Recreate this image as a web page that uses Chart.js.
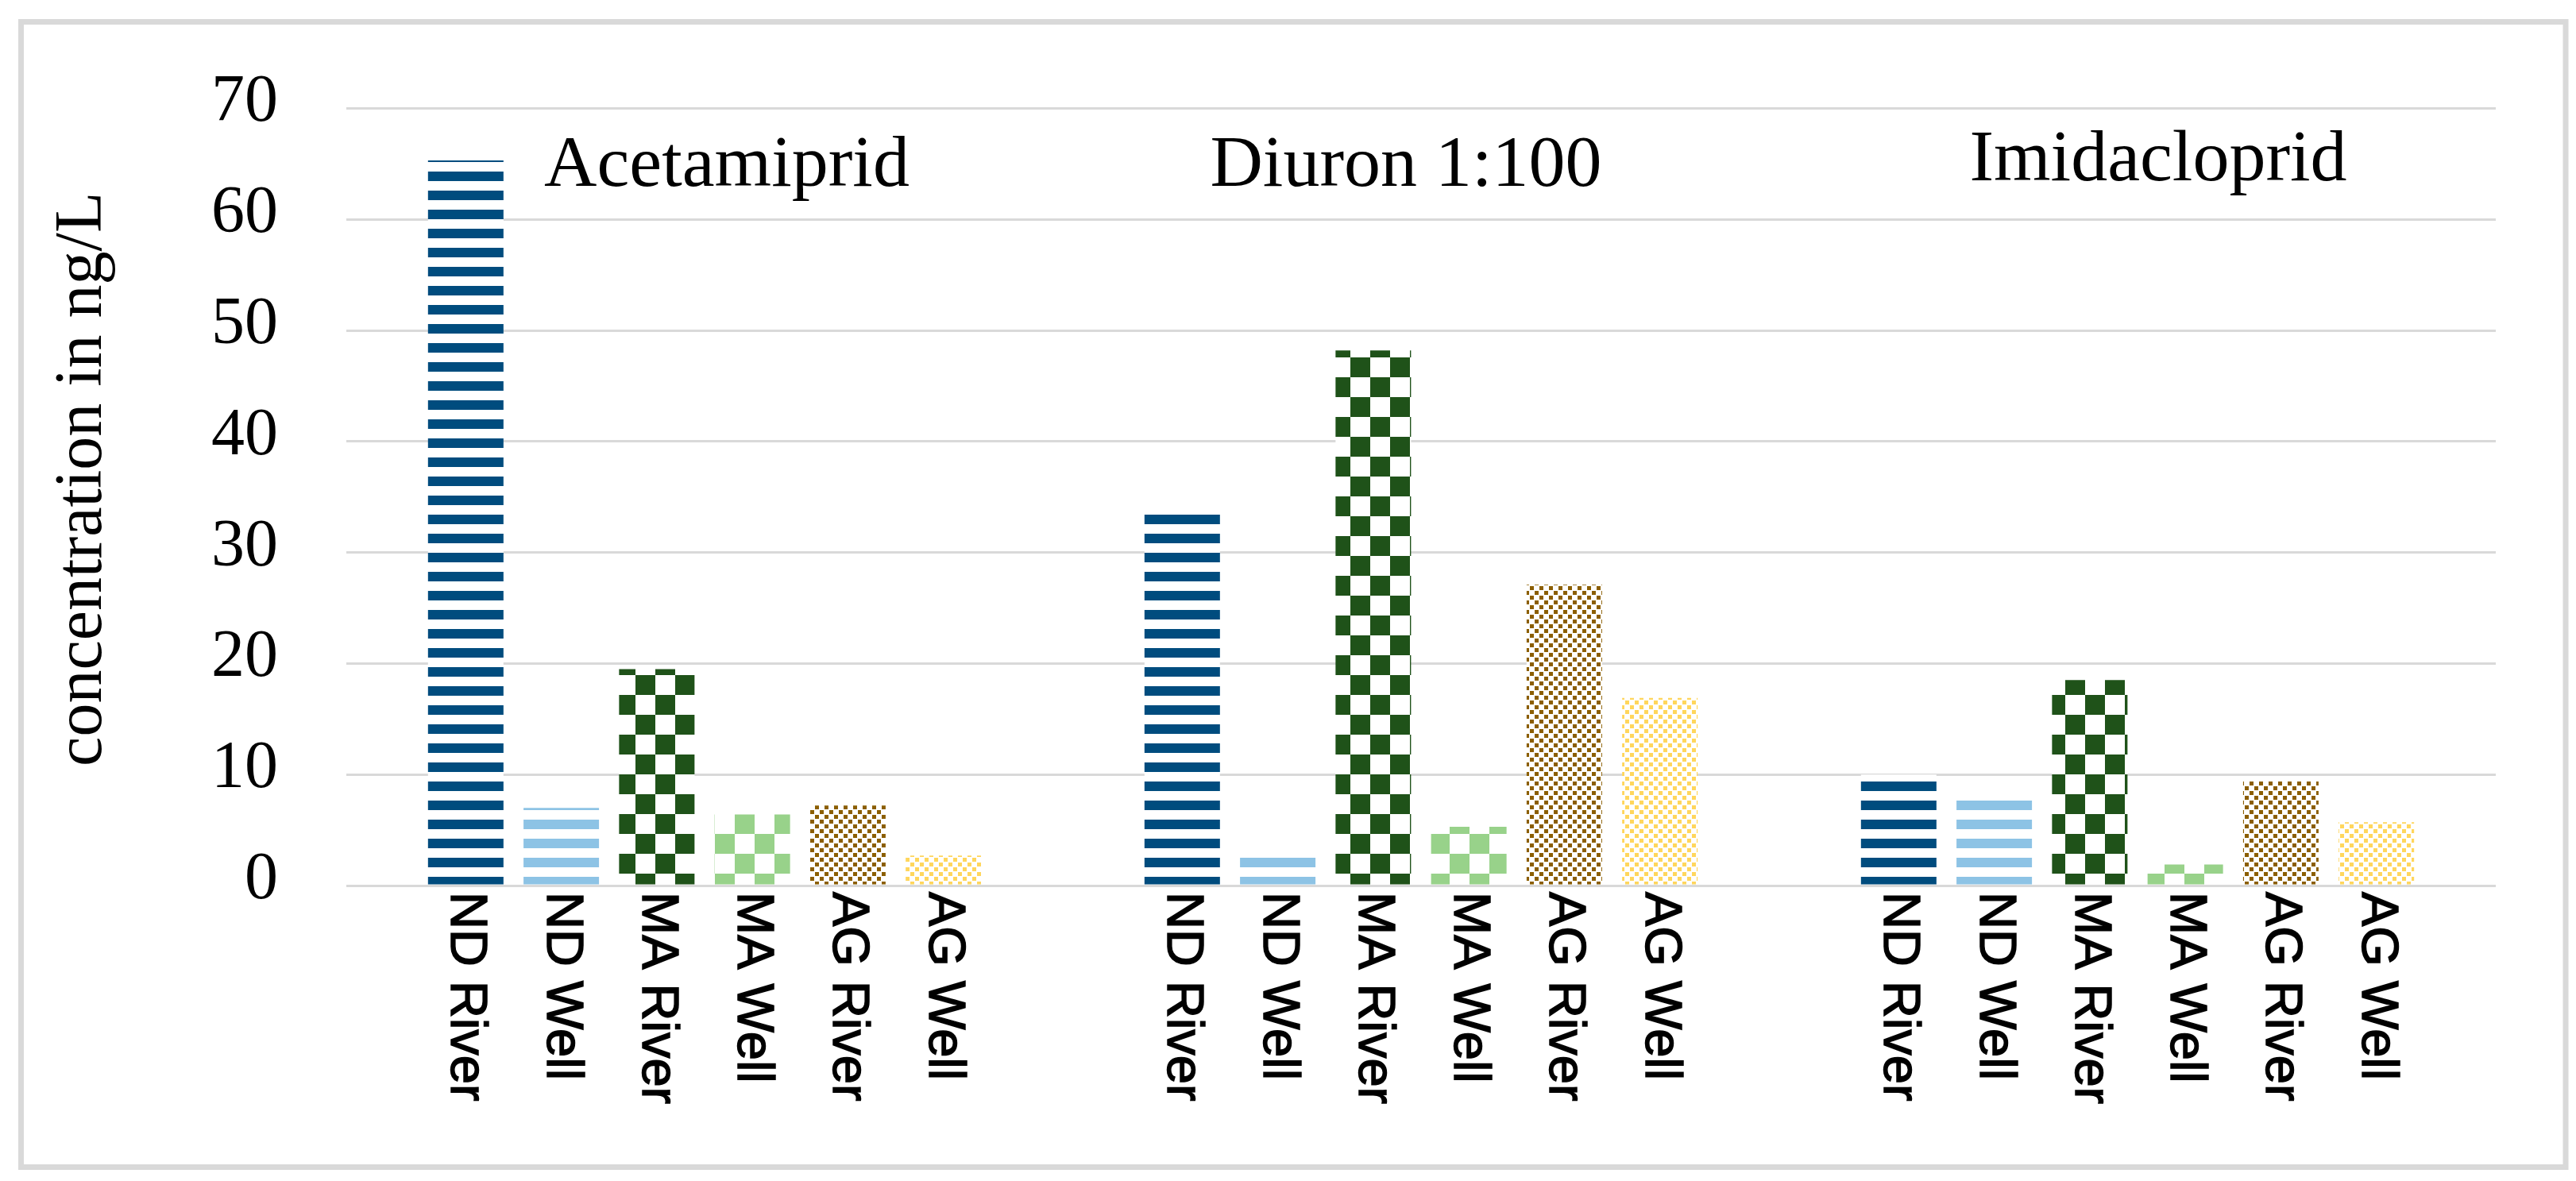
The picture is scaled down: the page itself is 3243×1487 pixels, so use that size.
<!DOCTYPE html>
<html>
<head>
<meta charset="utf-8">
<style>
  html, body { margin: 0; padding: 0; background: #ffffff; }
  canvas { display: block; }
</style>
<script src="https://cdn.jsdelivr.net/npm/chart.js@4.4.1/dist/chart.umd.min.js"></script>
</head>
<body>
<canvas id="chart" width="3243" height="1487"></canvas>
<script>
const groups = ['Acetamiprid', 'Diuron 1:100', 'Imidacloprid'];
const sites = ['ND River', 'ND Well', 'MA River', 'MA Well', 'AG River', 'AG Well'];

// values per site, one per group (Acetamiprid, Diuron 1:100, Imidacloprid)
const ndRiver = [65.3, 33.7, 10.0];
const ndWell = [7.0, 2.9, 7.8];
const maRiver = [19.5, 48.2, 18.5];
const maWell = [6.4, 5.3, 1.9];
const agRiver = [7.2, 27.1, 9.4];
const agWell = [2.7, 16.9, 5.7];

const yTicks = [0, 10, 20, 30, 40, 50, 60, 70];
const yTitle = 'concentration in ng/L';

const serif = '"Liberation Serif", "Times New Roman", serif';
const sans = '"Liberation Sans", Arial, sans-serif';

const makeTile = (size, draw) => {
  const tile = document.createElement('canvas');
  tile.width = size;
  tile.height = size;
  const tctx = tile.getContext('2d');
  tctx.fillStyle = '#ffffff';
  tctx.fillRect(0, 0, size, size);
  draw(tctx);
  return document.getElementById('chart').getContext('2d').createPattern(tile, 'repeat');
};

const stripes = (color) => makeTile(24, (c) => {
  c.fillStyle = color;
  c.fillRect(0, 0, 24, 12);
});

const checker = (color) => makeTile(50, (c) => {
  c.fillStyle = color;
  c.fillRect(0, 0, 25, 25);
  c.fillRect(25, 25, 25, 25);
});

const dots = (color) => makeTile(12, (c) => {
  c.fillStyle = color;
  c.fillRect(0, 0, 5, 5);
  c.fillRect(6, 6, 5, 5);
});

const fills = [
  stripes('#004C7E'),
  stripes('#8DC3E5'),
  checker('#1F5219'),
  checker('#98D28A'),
  dots('#8B5E00'),
  dots('#FFD65C'),
];

const seriesValues = [ndRiver, ndWell, maRiver, maWell, agRiver, agWell];

const frame = {
  id: 'frame',
  beforeDraw(chart) {
    const { ctx } = chart;
    ctx.save();
    ctx.strokeStyle = '#D9D9D9';
    ctx.lineWidth = 7;
    ctx.strokeRect(26.5, 27.5, 3203.5, 1442);
    ctx.restore();
  },
};

const axisTitle = {
  id: 'axisTitle',
  afterDraw(chart, _args, opts) {
    const { ctx, scales } = chart;
    ctx.save();
    ctx.font = `84px ${serif}`;
    ctx.fillStyle = '#000000';
    ctx.textAlign = 'center';
    ctx.textBaseline = 'alphabetic';
    ctx.translate(opts.baselineX, scales.y.getPixelForValue(opts.middle));
    ctx.rotate(-Math.PI / 2);
    ctx.fillText(yTitle, 0, 0);
    ctx.restore();
  },
};

const barLabels = {
  id: 'barLabels',
  afterDraw(chart) {
    const { ctx, chartArea } = chart;
    ctx.save();
    ctx.font = `65px ${sans}`;
    ctx.fillStyle = '#000000';
    ctx.strokeStyle = '#000000';
    ctx.lineWidth = 1.5;
    ctx.textAlign = 'left';
    ctx.textBaseline = 'middle';
    chart.data.datasets.forEach((dataset, i) => {
      chart.getDatasetMeta(i).data.forEach((bar) => {
        ctx.save();
        ctx.translate(bar.x, chartArea.bottom + 8);
        ctx.rotate(Math.PI / 2);
        ctx.fillText(dataset.label, 0, 0);
        ctx.strokeText(dataset.label, 0, 0);
        ctx.restore();
      });
    });
    ctx.restore();
  },
};

const groupTitles = {
  id: 'groupTitles',
  afterDatasetsDraw(chart, _args, opts) {
    const { ctx, scales } = chart;
    ctx.save();
    ctx.font = `92px ${serif}`;
    ctx.fillStyle = '#000000';
    ctx.textAlign = 'center';
    ctx.textBaseline = 'alphabetic';
    groups.forEach((name, i) => {
      const x = scales.x.getPixelForValue(i) + opts.shift[i];
      const y = scales.y.getPixelForValue(opts.level[i]);
      ctx.fillText(name, x, y);
    });
    ctx.restore();
  },
};

new Chart(document.getElementById('chart'), {
  type: 'bar',
  data: {
    labels: groups,
    datasets: sites.map((site, i) => ({
      label: site,
      data: seriesValues[i],
      backgroundColor: fills[i],
      borderWidth: 0,
      categoryPercentage: 0.8,
      barPercentage: 0.79,
    })),
  },
  options: {
    responsive: false,
    animation: false,
    devicePixelRatio: 1,
    layout: { padding: { top: 128, right: 101, left: 0, bottom: 0 } },
    plugins: {
      legend: { display: false },
      tooltip: { enabled: false },
      groupTitles: { shift: [28, -19, 26], level: [63.0, 63.0, 63.5] },
      axisTitle: { baselineX: 127, middle: 36.6 },
    },
    scales: {
      x: {
        grid: { display: false },
        border: { display: false },
        ticks: { display: false },
        afterFit: (scale) => { scale.height = 372; },
      },
      y: {
        min: 0,
        max: 70,
        afterBuildTicks: (scale) => { scale.ticks = yTicks.map((value) => ({ value })); },
        grid: { color: '#D9D9D9', lineWidth: 3, drawTicks: false },
        border: { display: false },
        ticks: {
          color: '#000000',
          padding: 86,
          labelOffset: -6,
          font: { family: serif, size: 84 },
        },
        afterFit: (scale) => { scale.width = 436; },
      },
    },
  },
  plugins: [frame, axisTitle, barLabels, groupTitles],
});
</script>
</body>
</html>
